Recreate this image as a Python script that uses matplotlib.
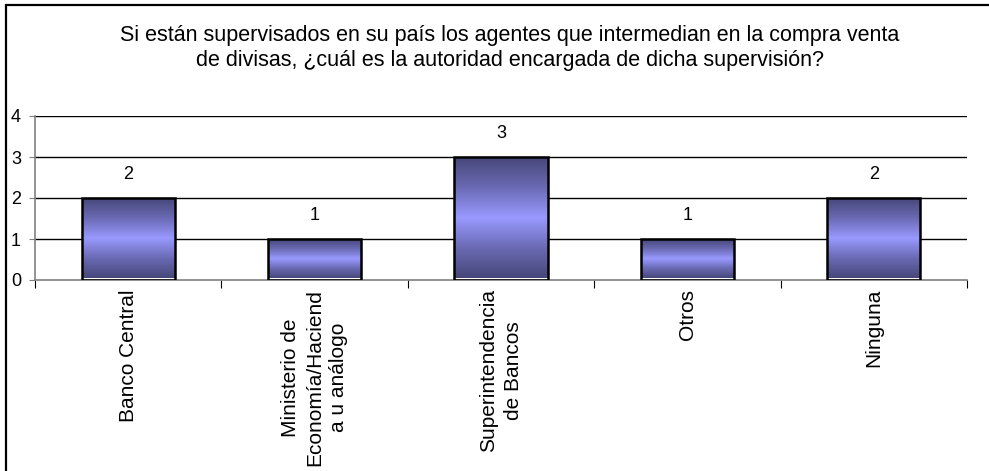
import matplotlib
matplotlib.use("Agg")
import matplotlib.pyplot as plt
import numpy as np
from matplotlib.colors import LinearSegmentedColormap
from matplotlib.patches import Rectangle

plt.rcParams['font.family'] = ['Liberation Sans', 'DejaVu Sans']

title = ("Si están supervisados en su país los agentes que intermedian en la compra venta\n"
         "de divisas, ¿cuál es la autoridad encargada de dicha supervisión?")
categories = ["Banco Central", "Ministerio de\nEconomía/Haciend\na u análogo",
              "Superintendencia\nde Bancos", "Otros", "Ninguna"]
values = [2, 1, 3, 1, 2]
yticks = [0, 1, 2, 3, 4]

W, H = 989, 471
fig = plt.figure(figsize=(W / 100, H / 100), dpi=100)
ax = fig.add_axes([35 / W, 1 - 280 / H, (967 - 35) / W, (280 - 116) / H])

# outer chart border (extends past right/bottom edge)
fig.patches.append(Rectangle((6 / W, -0.1), 1.2, 1 - 5 / H + 0.1, transform=fig.transFigure,
                             fill=False, edgecolor='black', linewidth=1.6, zorder=0))

fig.text(510 / W, 1 - 48 / H, title, ha='center', va='center', fontsize=15.5,
         linespacing=1.22)

ax.set_xlim(-0.5, len(categories) - 0.5)
ax.set_ylim(0, 4)

cmap = LinearSegmentedColormap.from_list("g", ["#47477a", "#6a6ab4", "#9999ff", "#6a6ab4", "#47477a"])
grad = np.linspace(0, 1, 256).reshape(-1, 1)
bw = 0.5
for i, v in enumerate(values):
    x0, x1 = i - bw / 2, i + bw / 2
    ax.imshow(grad, cmap=cmap, extent=[x0, x1, 0.05, v], aspect='auto', origin='lower',
              zorder=3, interpolation='bicubic')
    ax.add_patch(Rectangle((x0, 0), bw, v, fill=False, edgecolor='black', linewidth=1.8, zorder=4))
    ax.annotate(str(v), (i, v), xytext=(0, 17), textcoords='offset points',
                ha='center', va='center', fontsize=13)

for y in yticks[1:]:
    ax.axhline(y, color='black', linewidth=1.0, zorder=1)

for s in ['top', 'right']:
    ax.spines[s].set_visible(False)
ax.spines['left'].set_color('#808080')
ax.spines['bottom'].set_color('#808080')
ax.spines['left'].set_linewidth(1.2)
ax.spines['bottom'].set_linewidth(1.2)

ax.set_yticks(yticks)
ax.set_yticklabels([str(t) for t in yticks], fontsize=13)
ax.tick_params(axis='y', length=4, color='#808080', pad=6)

ax.set_xticks(np.arange(-0.5, len(categories), 1.0))
ax.set_xticklabels([])
ax.tick_params(axis='x', length=6, color='black', direction='out')
for i, c in enumerate(categories):
    ax.text(i, -0.22, c, rotation=90, ha='center', va='top', multialignment='center',
            fontsize=15, linespacing=1.35, transform=ax.transData)

fig.savefig("out.png", dpi=100)
